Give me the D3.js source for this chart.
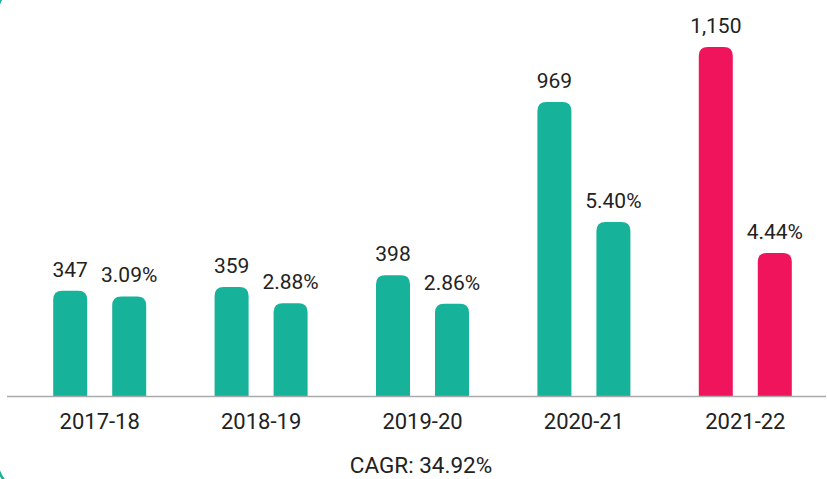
<!DOCTYPE html>
<html>
<head>
<meta charset="utf-8">
<script src="https://cdn.jsdelivr.net/npm/d3@7/dist/d3.min.js"></script>
<style>
  html, body { margin: 0; padding: 0; background: #fff; }
  svg { display: block; }
  text { font-family: Roboto, "Noto Sans", sans-serif; fill: #222; }
</style>
</head>
<body>
<svg id="chart" width="827" height="479"></svg>
<script>
// ---- data ----
const categories = ["2017-18", "2018-19", "2019-20", "2020-21", "2021-22"];
const amounts = [347, 359, 398, 969, 1150];          // left bars
const shares = [3.09, 2.88, 2.86, 5.40, 4.44];       // right bars (%)
const highlightCategory = "2021-22";
const footnote = "CAGR: 34.92%";

// ---- layout ----
const W = 827, H = 479;
const baseY = 396;
const teal = "#17B29A", pink = "#EF145B";

const svg = d3.select("#chart");

// frame (partly off-canvas rounded border)
svg.append("rect")
  .attr("x", -2.5).attr("y", -15).attr("width", 900).attr("height", 505)
  .attr("rx", 28).attr("ry", 28)
  .attr("fill", "none").attr("stroke", teal).attr("stroke-width", 2.5);

const x0 = d3.scaleBand().domain(categories).range([19, 826]).padding(0);
const keys = ["amount", "share"];
const x1 = d3.scaleBand().domain(keys).range([-46.5, 46.5]).paddingInner(25 / 59).paddingOuter(0);

const yAmount = d3.scaleLinear().domain([0, d3.max(amounts)]).range([baseY, 47]);
const yShare = d3.scaleLinear().domain([0, d3.max(shares)]).range([baseY, 222]);

const rows = categories.map((c, i) => ({ cat: c, amount: amounts[i], share: shares[i] }));

function barPath(x, y, w, h, r) {
  r = Math.min(r, w / 2, h);
  return `M${x},${y + h}V${y + r}Q${x},${y} ${x + r},${y}H${x + w - r}Q${x + w},${y} ${x + w},${y + r}V${y + h}Z`;
}

const fmtAmount = d3.format(",");
const fmtShare = d => d3.format(".2f")(d) + "%";

const groups = svg.append("g").selectAll("g").data(rows).join("g")
  .attr("transform", d => `translate(${x0(d.cat) + x0.bandwidth() / 2},0)`);

const items = groups.selectAll("g.item")
  .data(d => [
    { key: "amount", value: d.amount, y: yAmount(d.amount), label: fmtAmount(d.amount), cat: d.cat },
    { key: "share", value: d.share, y: yShare(d.share), label: fmtShare(d.share), cat: d.cat }
  ])
  .join("g").attr("class", "item");

items.append("path")
  .attr("d", d => barPath(x1(d.key), d.y, x1.bandwidth(), baseY - d.y, 9))
  .attr("fill", d => d.cat === highlightCategory ? pink : teal);

items.append("text")
  .attr("x", d => x1(d.key) + x1.bandwidth() / 2)
  .attr("y", d => d.y - 14)
  .attr("text-anchor", "middle")
  .attr("font-size", 21)
  .text(d => d.label);

// x axis
const axis = svg.append("g")
  .attr("transform", `translate(0,${baseY})`)
  .call(d3.axisBottom(x0).tickSize(0).tickPadding(17.4));
axis.select(".domain").remove();
axis.selectAll("text")
  .attr("font-size", 22)
  .style("font-family", "Roboto, 'Noto Sans', sans-serif")
  .attr("fill", "#222");

svg.append("line")
  .attr("x1", 7).attr("x2", 826)
  .attr("y1", baseY + 0.5).attr("y2", baseY + 0.5)
  .attr("stroke", "#aaa").attr("stroke-width", 1.5);

svg.append("text")
  .attr("x", 421).attr("y", 473)
  .attr("text-anchor", "middle")
  .attr("font-size", 22.5)
  .text(footnote);
</script>
</body>
</html>
